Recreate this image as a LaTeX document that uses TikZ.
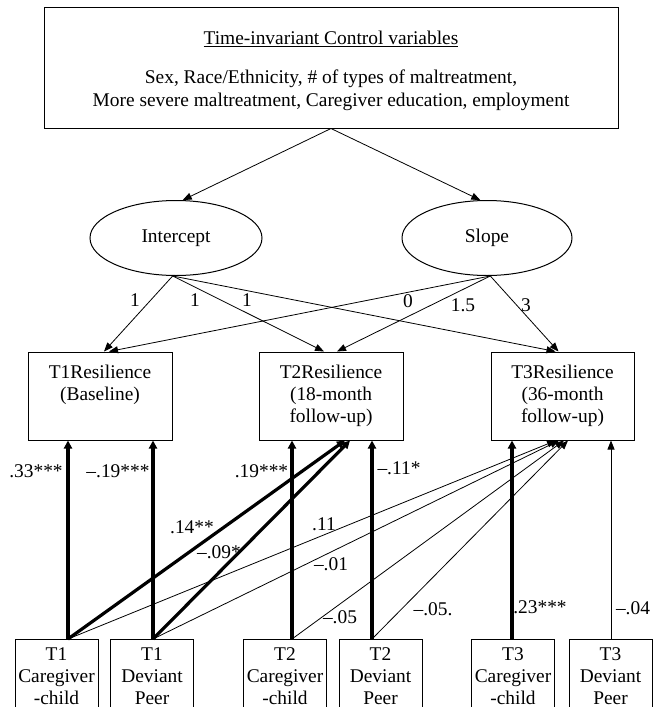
\documentclass[tikz,border=0pt]{standalone}
\usepackage{fontspec}
\setmainfont{Liberation Serif}
\usetikzlibrary{arrows.meta,shapes.geometric}
\begin{document}
\begin{tikzpicture}[x=1pt,y=-1pt,
  every node/.style={font=\fontsize{19.4}{22}\selectfont},
  box/.style={draw, line width=1pt, rectangle, align=center},
  resbox/.style={box, minimum width=144pt, minimum height=88pt, inner sep=0pt},
  obsbox/.style={box, anchor=north, minimum width=83pt, inner xsep=0pt, inner ysep=8pt},
  latent/.style={draw, line width=1pt, ellipse, minimum width=172pt, minimum height=75pt, inner sep=0pt},
  thinarrow/.style={line width=0.8pt, -{Triangle[length=9pt,width=7pt]}},
  thickarrow/.style={line width=3.2pt, -{Triangle[length=8pt,width=8pt]}},
  lab/.style={inner sep=0pt}
]
\useasboundingbox (0,0) rectangle (660,707);
\clip (0,0) rectangle (660,707);

% top box
\node[box, minimum width=574pt, minimum height=121pt, inner sep=0pt,
      font=\fontsize{19.4}{23}\selectfont] (ctrl) at (331,67.5)
  {\rule{0pt}{20pt}\underline{Time-invariant Control variables}\\[16pt]
   Sex, Race/Ethnicity, \# of types of maltreatment,\\
   More severe maltreatment, Caregiver education, employment};

% latent factors
\node[latent] (icpt) at (176,238) {Intercept};
\node[latent, minimum width=170pt] (slope) at (487,238) {Slope};

% resilience boxes
\node[resbox] (t1res) at (100,396) {T1Resilience\\(Baseline)\\\vphantom{()}};
\node[resbox] (t2res) at (331,396) {T2Resilience\\(18-month\\follow-up)};
\node[resbox, minimum width=143pt] (t3res) at (562.5,396) {T3Resilience\\(36-month\\follow-up)};

% predictor boxes
\node[obsbox] (t1cg) at (56.5,639) {T1\\Caregiver\\-child};
\node[obsbox] (t1dp) at (152,639) {T1\\Deviant\\Peer};
\node[obsbox] (t2cg) at (285,639) {T2\\Caregiver\\-child};
\node[obsbox] (t2dp) at (380.5,639) {T2\\Deviant\\Peer};
\node[obsbox] (t3cg) at (513,639) {T3\\Caregiver\\-child};
\node[obsbox] (t3dp) at (610.5,639) {T3\\Deviant\\Peer};

% control -> latent
\draw[thinarrow] (ctrl.south) -- (icpt.80);
\draw[thinarrow] (ctrl.south) -- (slope.100);

% latent -> resilience
\draw[thinarrow] (icpt.265) -- ([xshift=4pt]t1res.north);
\draw[thinarrow] (icpt.265) -- ([xshift=-7pt]t2res.north);
\draw[thinarrow] (icpt.265) -- ([xshift=-7pt]t3res.north);
\draw[thinarrow] (slope.275) -- ([xshift=9pt]t1res.north);
\draw[thinarrow] (slope.275) -- ([xshift=6pt]t2res.north);
\draw[thinarrow] (slope.275) -- ([xshift=-4pt]t3res.north);

% loading labels
\node[lab] (w1) at (135,300) {1};
\node[lab] (w2) at (195,300) {1};
\node[lab] (w3) at (247,300) {1};
\node[lab] (w4) at (408,301) {0};
\node[lab] (w5) at (463,305) {1.5};
\node[lab] (w6) at (526,305) {3};

% predictors -> resilience (vertical)
\draw[thickarrow] ([xshift=11.5pt]t1cg.north) -- ([xshift=11.5pt]t1cg.north |- t1res.south);
\draw[thickarrow] ([xshift=1pt]t1dp.north) -- ([xshift=1pt]t1dp.north |- t1res.south);
\draw[thickarrow] ([xshift=7pt]t2cg.north) -- ([xshift=7pt]t2cg.north |- t2res.south);
\draw[thickarrow] ([xshift=-8.5pt]t2dp.north) -- ([xshift=-8.5pt]t2dp.north |- t2res.south);
\draw[thickarrow] ([xshift=-1pt]t3cg.north) -- ([xshift=-1pt]t3cg.north |- t3res.south);
\draw[thinarrow] ([xshift=0.5pt]t3dp.north) -- ([xshift=0.5pt]t3dp.north |- t3res.south);

% lagged paths
\draw[thickarrow] ([xshift=11.5pt]t1cg.north) -- ([xshift=14pt]t2res.south);
\draw[thickarrow] ([xshift=1pt]t1dp.north) -- ([xshift=19pt]t2res.south);
\draw[thinarrow] ([xshift=11.5pt]t1cg.north) -- ([xshift=-6.5pt]t3res.south);
\draw[thinarrow] ([xshift=1pt]t1dp.north) -- ([xshift=-3.5pt]t3res.south);
\draw[thinarrow] ([xshift=7pt]t2cg.north) -- ([xshift=1.5pt]t3res.south);
\draw[thinarrow] ([xshift=-8.5pt]t2dp.north) -- ([xshift=5.5pt]t3res.south);

% path labels
\node[lab] (c1) at (36,471) {.33***};
\node[lab] (c2) at (118,471) {--.19***};
\node[lab] (c3) at (261.5,471) {.19***};
\node[lab] (c4) at (192,527) {.14**};
\node[lab] (c5) at (219,552) {--.09*};
\node[lab] (c6) at (324,524) {.11};
\node[lab] (c7) at (331,564) {--.01};
\node[lab] (c8) at (340,617) {--.05};
\node[lab] (c9) at (433,609) {--.05.};
\node[lab] (c10) at (399,468) {--.11*};
\node[lab] (c11) at (540,607) {.23***};
\node[lab] (c12) at (633,608) {--.04};
\end{tikzpicture}
\end{document}
